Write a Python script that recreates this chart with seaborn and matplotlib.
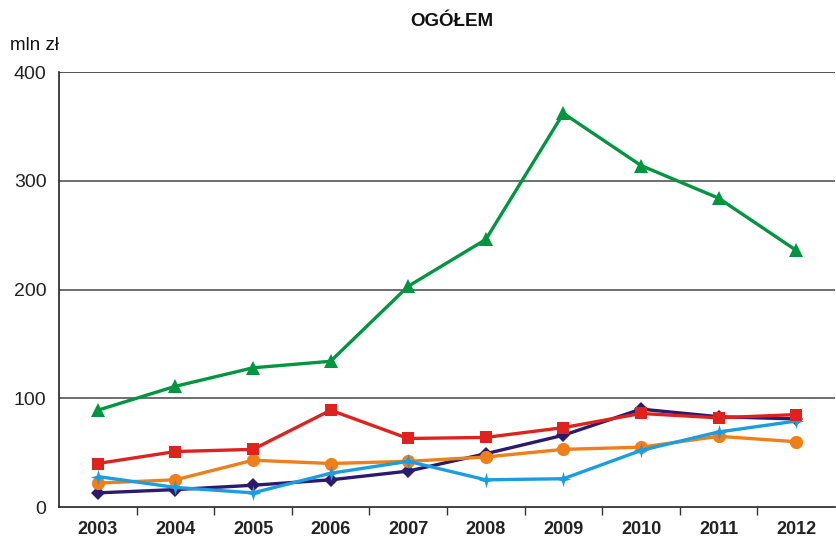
import matplotlib
matplotlib.use("Agg")
import matplotlib.pyplot as plt
import seaborn as sns
import pandas as pd
import numpy as np
from matplotlib.ticker import FixedLocator

years = [2003, 2004, 2005, 2006, 2007, 2008, 2009, 2010, 2011, 2012]
green = [89, 111, 128, 134, 203, 246, 362, 314, 284, 236]
red = [40, 51, 53, 89, 63, 64, 73, 86, 82, 85]
orange = [22, 25, 43, 40, 42, 46, 53, 55, 65, 60]
navy = [13, 16, 20, 25, 33, 49, 66, 90, 83, 81]
blue = [28, 18, 13, 31, 42, 25, 26, 52, 69, 79]
yticks = [0, 100, 200, 300, 400]

sns.set_theme(style="white")
plt.rcParams['font.family'] = ['Liberation Sans', 'DejaVu Sans']

fig = plt.figure(figsize=(8.37, 5.37), dpi=100)
ax = fig.add_axes([59/837, 30/537, (835-59)/837, (507-72)/537])

star = [(0, 1), (0.22, 0.22), (1, 0), (0.22, -0.22), (0, -1), (-0.22, -0.22), (-1, 0), (-0.22, 0.22), (0, 1)]

series = [
    ("navy", navy, "#2b1a6e", "D", 7.5),
    ("orange", orange, "#ef7f1a", "o", 9.5),
    ("blue", blue, "#1a9ee0", star, 11),
    ("red", red, "#e0221e", "s", 9),
    ("green", green, "#009640", "^", 9.5),
]
for name, vals, col, mk, ms in series:
    df = pd.DataFrame({"year": years, "value": vals})
    sns.lineplot(data=df, x="year", y="value", ax=ax, color=col, linewidth=2.4,
                 marker=mk, markersize=ms, markeredgewidth=0, markeredgecolor=col,
                 clip_on=False, zorder=3)

ax.set_xlim(2002.5, 2012.5)
ax.set_ylim(0, 400)
ax.set_yticks(yticks)
ax.set_yticklabels([str(v) for v in yticks], fontsize=14, color="#222222")
ax.set_xticks(years)
ax.set_xticklabels([str(y) for y in years], fontsize=13, fontweight="bold", color="#222222")
ax.xaxis.set_minor_locator(FixedLocator([y + 0.5 for y in years[:-1]]))
ax.tick_params(axis="x", which="major", length=0, pad=10)
ax.tick_params(axis="x", which="minor", length=6, width=1, color="#333333", direction="out", bottom=True)
ax.tick_params(axis="y", length=0, pad=9)
ax.set_xlabel("")
ax.set_ylabel("")

for v in yticks[1:]:
    ax.axhline(v, color="#555555" if v < 400 else "#333333", linewidth=1.2, zorder=1)

for s in ["top", "right"]:
    ax.spines[s].set_visible(False)
for s in ["left", "bottom"]:
    ax.spines[s].set_visible(True)
    ax.spines[s].set_color("#222222")
    ax.spines[s].set_linewidth(1.2)
ax.grid(False)

fig.text(452/837, 1 - 22/537, "OGÓŁEM", ha="center", va="center", fontsize=13.5, fontweight="bold", color="#111111")
fig.text(10/837, 1 - 45/537, "mln zł", ha="left", va="center", fontsize=13.5, color="#111111")

fig.savefig("out.png", dpi=100)
